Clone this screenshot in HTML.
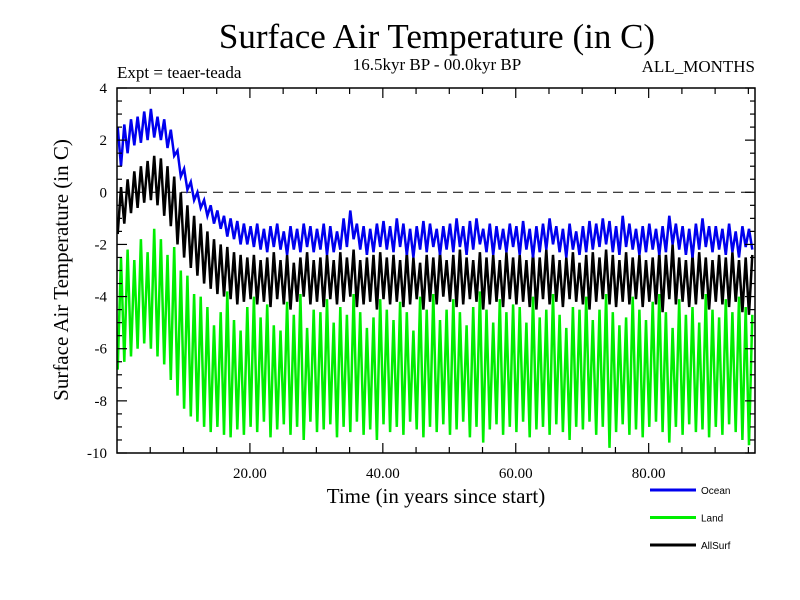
<!DOCTYPE html>
<html><head><meta charset="utf-8"><style>
body{margin:0;background:#fff;}
svg{display:block;font-family:"Liberation Serif",serif;}
</style></head><body>
<svg id="chart" width="800" height="600" xmlns="http://www.w3.org/2000/svg">
<rect width="800" height="600" fill="#fff"/>
<text x="437" y="48" font-size="35" text-anchor="middle">Surface Air Temperature (in C)</text>
<text x="117" y="78" font-size="17">Expt = teaer-teada</text>
<text x="437" y="70" font-size="17" text-anchor="middle">16.5kyr BP - 00.0kyr BP</text>
<text x="755" y="72" font-size="17" text-anchor="end">ALL_MONTHS</text>
<text transform="translate(68,270) rotate(-90)" font-size="21" text-anchor="middle">Surface Air Temperature (in C)</text>
<text x="436" y="503" font-size="21" text-anchor="middle">Time (in years since start)</text>
<g id="plot"></g>
<g id="axes"></g>
<g id="legend"></g>
</svg>
<script>
const years=[];for(let i=0;i<96;i++)years.push(i);
const oceanHigh=[2.5,2.6,2.8,2.9,3.1,3.2,2.9,2.8,2.4,1.6,0.9,0.4,0.0,-0.3,-0.5,-0.7,-0.9,-1.0,-1.1,-1.2,-1.3,-1.2,-1.4,-1.3,-1.2,-1.5,-1.3,-1.4,-1.2,-1.3,-1.4,-1.2,-1.3,-1.5,-1.0,-0.7,-1.2,-1.3,-1.4,-1.2,-1.1,-1.3,-1.0,-1.2,-1.4,-1.3,-1.1,-1.2,-1.4,-1.3,-1.2,-1.0,-1.3,-1.1,-1.0,-1.4,-1.2,-1.3,-1.4,-1.2,-1.3,-1.1,-1.4,-1.3,-1.2,-1.0,-1.3,-1.4,-1.2,-1.5,-1.3,-1.1,-1.2,-1.0,-1.1,-1.3,-0.9,-1.2,-1.4,-1.3,-1.2,-1.4,-1.3,-0.9,-1.2,-1.3,-1.4,-1.2,-1.0,-1.3,-1.3,-1.4,-1.2,-1.5,-1.3,-1.4];
const oceanLow=[1.0,1.5,1.8,1.9,2.0,2.1,2.0,1.7,1.4,0.6,0.1,-0.3,-0.6,-0.9,-1.2,-1.4,-1.7,-1.8,-2.0,-2.0,-2.1,-2.2,-2.3,-2.1,-2.2,-2.4,-2.2,-2.3,-2.1,-2.3,-2.2,-2.4,-2.3,-2.2,-2.1,-1.8,-2.2,-2.4,-2.3,-2.1,-2.2,-2.3,-2.1,-2.4,-2.5,-2.2,-2.3,-2.1,-2.4,-2.2,-2.3,-2.1,-2.4,-2.2,-2.0,-2.3,-2.4,-2.2,-2.3,-2.1,-2.4,-2.2,-2.5,-2.3,-2.2,-2.0,-2.3,-2.5,-2.2,-2.4,-2.3,-2.2,-2.1,-2.0,-2.3,-2.4,-2.1,-2.2,-2.4,-2.3,-2.2,-2.4,-2.3,-2.0,-2.2,-2.4,-2.5,-2.2,-2.1,-2.3,-2.2,-2.4,-2.3,-2.5,-2.1,-2.2];
const allHigh=[0.2,0.5,0.8,1.0,1.2,1.4,1.3,1.0,0.6,0.0,-0.5,-0.9,-1.2,-1.5,-1.8,-2.0,-2.1,-2.3,-2.4,-2.5,-2.4,-2.6,-2.5,-2.3,-2.6,-2.4,-2.7,-2.5,-2.3,-2.6,-2.5,-2.4,-2.6,-2.3,-2.5,-2.2,-2.6,-2.5,-2.4,-2.3,-2.5,-2.4,-2.6,-2.3,-2.5,-2.7,-2.4,-2.5,-2.3,-2.6,-2.4,-2.2,-2.5,-2.6,-2.3,-2.5,-2.4,-2.6,-2.3,-2.5,-2.4,-2.6,-2.3,-2.5,-2.2,-2.4,-2.6,-2.5,-2.3,-2.7,-2.4,-2.3,-2.5,-2.2,-2.4,-2.6,-2.3,-2.5,-2.4,-2.6,-2.5,-2.3,-2.4,-2.0,-2.5,-2.6,-2.4,-2.3,-2.5,-2.6,-2.4,-2.5,-2.3,-2.6,-2.5,-2.4];
const allLow=[-1.6,-1.2,-0.8,-0.6,-0.4,-0.3,-0.5,-0.9,-1.3,-2.0,-2.5,-2.9,-3.2,-3.5,-3.7,-3.9,-4.0,-4.1,-4.3,-4.2,-4.1,-4.3,-4.2,-4.4,-4.1,-4.3,-4.5,-4.2,-4.0,-4.3,-4.2,-4.4,-4.1,-4.3,-4.2,-4.0,-4.4,-4.3,-4.2,-4.5,-4.1,-4.3,-4.2,-4.4,-4.3,-4.1,-4.5,-4.2,-4.3,-4.0,-4.2,-4.4,-4.3,-4.1,-4.2,-4.5,-4.3,-4.2,-4.4,-4.1,-4.3,-4.2,-4.4,-4.5,-4.1,-4.3,-4.2,-4.4,-4.1,-4.2,-4.3,-4.5,-4.2,-4.1,-4.3,-4.4,-4.2,-4.3,-4.1,-4.4,-4.2,-4.3,-4.6,-4.1,-4.3,-4.2,-4.4,-4.3,-4.1,-4.5,-4.2,-4.3,-4.4,-4.2,-4.6,-4.7];
const landHigh=[-2.5,-2.2,-2.6,-1.8,-2.3,-1.4,-1.8,-2.4,-2.1,-3.0,-3.2,-3.9,-4.0,-4.4,-5.1,-4.6,-3.8,-4.9,-5.3,-4.4,-4.0,-4.8,-4.3,-5.1,-5.3,-4.2,-4.7,-3.9,-5.2,-4.5,-4.6,-4.1,-5.0,-4.4,-4.7,-3.9,-4.6,-5.2,-4.8,-4.1,-4.5,-4.9,-4.2,-4.6,-5.3,-4.0,-4.5,-3.9,-4.9,-4.5,-4.1,-4.6,-5.1,-4.4,-3.8,-4.5,-5.0,-4.1,-4.6,-4.3,-4.4,-5.0,-4.0,-4.8,-4.5,-3.9,-4.7,-5.2,-4.4,-4.5,-4.0,-4.9,-4.5,-3.9,-4.6,-5.1,-4.8,-4.0,-4.5,-4.9,-4.2,-3.9,-4.6,-5.2,-4.1,-4.7,-4.4,-5.0,-3.9,-4.5,-4.8,-4.1,-4.6,-4.0,-4.4,-4.7];
const landLow=[-6.8,-6.5,-6.3,-6.0,-5.8,-6.0,-6.3,-6.6,-7.2,-7.8,-8.3,-8.6,-8.8,-9.0,-9.2,-9.0,-9.3,-9.4,-9.1,-9.3,-9.0,-9.2,-8.8,-9.4,-9.1,-8.9,-9.3,-9.0,-9.5,-8.8,-9.2,-9.1,-8.9,-9.4,-9.0,-9.2,-8.8,-9.3,-9.1,-9.5,-8.9,-9.2,-9.0,-9.3,-8.8,-9.1,-9.4,-9.0,-9.2,-8.9,-9.3,-9.1,-8.8,-9.4,-9.0,-9.6,-9.1,-8.9,-9.3,-9.0,-9.2,-8.8,-9.4,-9.1,-9.0,-9.3,-8.9,-9.2,-9.5,-9.0,-9.1,-8.8,-9.3,-9.0,-9.8,-9.2,-8.9,-9.3,-9.1,-9.4,-9.0,-8.8,-9.2,-9.6,-9.0,-9.3,-8.9,-9.2,-9.1,-9.4,-9.0,-9.3,-8.9,-9.2,-9.5,-9.7];
const yTicks=[4,2,0,-2,-4,-6,-8,-10];
const xTicks=[20,40,60,80];
const xTickLabels=["20.00","40.00","60.00","80.00"];

const L=117,R=755,T=88,B=453,X0=0,X1=96,Y0=-10,Y1=4;
const sx=v=>L+(v-X0)/(X1-X0)*(R-L);
const sy=v=>B-(v-Y0)/(Y1-Y0)*(B-T);
const NS="http://www.w3.org/2000/svg";
function mk(tag,parent){const e=document.createElementNS(NS,tag);parent.appendChild(e);return e;}
const plot=document.getElementById('plot'),axes=document.getElementById('axes'),legend=document.getElementById('legend');

const zl=mk('line',plot);


zl.setAttribute('x1',L);zl.setAttribute('x2',R);zl.setAttribute('y1',sy(0));zl.setAttribute('y2',sy(0));
zl.setAttribute('stroke','#000');zl.setAttribute('stroke-dasharray','10,6');

function series(hi,lo,color,name,lowFirst){
  const pts=[];
  years.forEach((y,i)=>{
    if(lowFirst){pts.push([sx(y+0.1),sy(lo[i])]);pts.push([sx(y+0.6),sy(hi[i])]);}
    else{pts.push([sx(y+0.1),sy(hi[i])]);pts.push([sx(y+0.6),sy(lo[i])]);}
  });
  const p=mk('polyline',plot);
  
  
  p.setAttribute('points',pts.map(q=>q[0].toFixed(1)+','+q[1].toFixed(1)).join(' '));
  p.setAttribute('fill','none');p.setAttribute('stroke',color);p.setAttribute('stroke-width','2.5');
}
series(landHigh,landLow,'#00ee00','land-series',true);
series(allHigh,allLow,'#000','allsurf-series',true);
series(oceanHigh,oceanLow,'#0000ee','ocean-series',false);

const fr=mk('rect',axes);


fr.setAttribute('x',L);fr.setAttribute('y',T);fr.setAttribute('width',R-L);fr.setAttribute('height',B-T);
fr.setAttribute('fill','none');fr.setAttribute('stroke','#000');fr.setAttribute('stroke-width','1.5');

function tick(x1,y1,x2,y2){const t=mk('line',axes);


t.setAttribute('x1',x1);t.setAttribute('y1',y1);t.setAttribute('x2',x2);t.setAttribute('y2',y2);t.setAttribute('stroke','#000');t.setAttribute('stroke-width','1.2');}
for(let v=Y0;v<=Y1;v+=0.5){const y=sy(v);const len=(v%2===0)?10:5;tick(L,y,L+len,y);tick(R,y,R-len,y);}
for(let v=5;v<X1;v+=5){const x=sx(v);const len=(v%20===0)?10:6;tick(x,B,x,B-len);tick(x,T,x,T+len);}
yTicks.forEach(v=>{const t=mk('text',axes);


t.setAttribute('x',L-10);t.setAttribute('y',sy(v)+5);t.setAttribute('text-anchor','end');t.setAttribute('font-size','15');t.textContent=v;});
xTicks.forEach((v,i)=>{const t=mk('text',axes);


t.setAttribute('x',sx(v));t.setAttribute('y',B+25);t.setAttribute('text-anchor','middle');t.setAttribute('font-size','15');t.textContent=xTickLabels[i];});

const legendNames=['Ocean','Land','AllSurf'];
const legendColors=['#0000ee','#00ee00','#000'];
legendNames.forEach((n,i)=>{const y=490+i*27.5;
const l=mk('line',legend);


l.setAttribute('x1',650);l.setAttribute('x2',696);l.setAttribute('y1',y);l.setAttribute('y2',y);l.setAttribute('stroke',legendColors[i]);l.setAttribute('stroke-width','3');
const t=mk('text',legend);


t.setAttribute('x',701);t.setAttribute('y',y+4);t.setAttribute('font-size','10');t.setAttribute('font-family','"Liberation Sans",sans-serif');t.textContent=n;});
</script>
</body></html>
